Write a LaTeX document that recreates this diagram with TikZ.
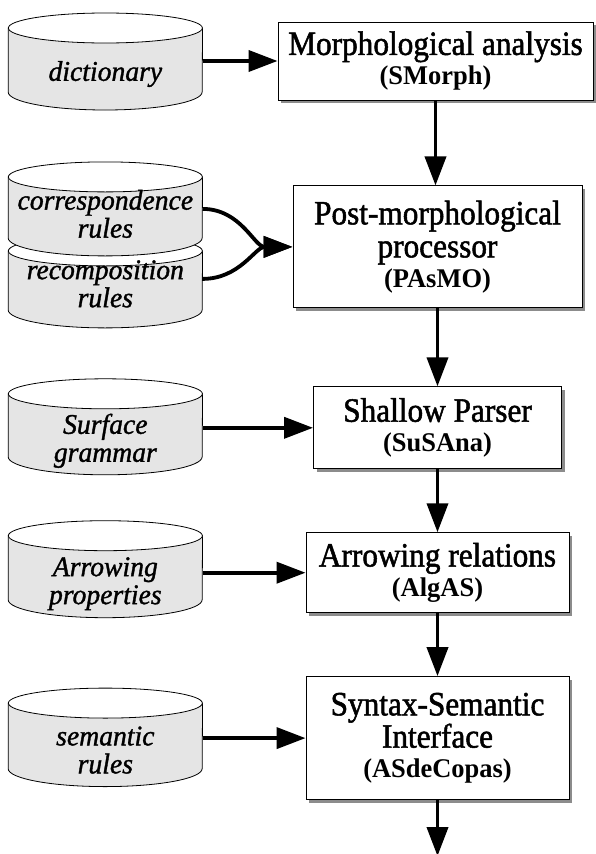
\documentclass[tikz,border=0pt]{standalone}
\usepackage{fontspec}
\setmainfont{Liberation Serif}
\newfontfamily\boxfont[FakeStretch=0.92, FakeBold=1.5]{Liberation Serif}
\newfontfamily\tagfont[FakeStretch=0.98]{Liberation Serif}
\newfontfamily\storefont[FakeStretch=0.97, FakeBold=1.2]{Liberation Serif}
\usetikzlibrary{positioning}
\usetikzlibrary{arrows.meta}
\usetikzlibrary{shadows,backgrounds}
\definecolor{drumgray}{gray}{0.9}
\tikzset{
procbox/.style={rectangle, draw=black, fill=white, line width=0.9pt, inner sep=0pt, align=center,
  font=\boxfont\fontsize{34}{30}\selectfont,
  drop shadow={shadow xshift=3pt, shadow yshift=-3pt, fill=black!45, opacity=1}},
store/.style={rectangle, inner sep=0pt, minimum width=194pt, align=center,
  font=\storefont\itshape\fontsize{28.5}{28}\selectfont},
flow/.style={line width=3.8pt, -{Triangle[length=29pt,width=21pt]}}
}
\def\prog#1{{\tagfont\bfseries\fontsize{27}{30}\selectfont(#1)}}
\def\drum#1#2#3{%
\begin{scope}[on background layer]
\filldraw[fill=drumgray, line width=0.8pt] ([yshift=#2]#1.west) -- ([yshift=-#3]#1.west)
  arc[start angle=180, end angle=360, x radius=97pt, y radius=18pt] -- ([yshift=#2]#1.east) -- cycle;
\filldraw[fill=white, line width=0.8pt] ([yshift=#2]#1.center) ellipse[x radius=97pt, y radius=15pt];
\end{scope}}

\begin{document}
\begin{tikzpicture}[x=1pt, y=1pt]
\useasboundingbox (0,0) rectangle (596,-854);
%Boxes
\node [procbox, minimum width=315pt, minimum height=78pt] (SMorph) at (435.5,-61) {Morphological analysis\\ \prog{SMorph}};
\node [procbox, minimum width=289pt, minimum height=122pt] (PAsMO) [below=85pt of SMorph, xshift=2pt] {Post-morphological\\[3pt] processor\\ \prog{PAsMO}};
\node [procbox, minimum width=248pt, minimum height=82pt] (SuSAna) [below=78pt of PAsMO] {Shallow Parser\\ \prog{SuSAna}};
\node [procbox, minimum width=263pt, minimum height=80pt] (AlgAS) [below=63pt of SuSAna] {Arrowing relations\\ \prog{AlgAS}};
\node [procbox, minimum width=263pt, minimum height=123pt] (ASdeCopas) [below=63pt of AlgAS] {Syntax-Semantic\\ Interface\\ \prog{ASdeCopas}};
\coordinate [below=56pt of ASdeCopas] (out);

%Stores
\node [store, left=75pt of SMorph, yshift=-13pt] (dict) {dictionary};
\node [store, left=90pt of PAsMO, yshift=33pt] (corr) {correspondence\\ rules};
\node [store, left=90pt of PAsMO, yshift=-37pt] (recomp) {recomposition\\ rules};
\node [store, left=110.5pt of SuSAna, yshift=-13pt] (surf) {Surface\\ grammar};
\node [store, left=103pt of AlgAS, yshift=-11pt] (arrprop) {Arrowing\\ properties};
\node [store, left=103pt of ASdeCopas, yshift=-12pt] (sem) {semantic\\ rules};
\drum{dict}{46pt}{18pt}
\drum{recomp}{33pt}{26pt}
\drum{corr}{37pt}{24pt}
\drum{surf}{47pt}{16pt}
\drum{arrprop}{48pt}{16pt}
\drum{sem}{47pt}{18.5pt}

%Lines
\draw [flow] (dict.east |- SMorph.west) -- (SMorph.west);
\draw [flow] (SMorph.south) -- (SMorph.south |- PAsMO.north);
\draw [flow] ([yshift=5pt]corr.east) to[out=0, in=180] (PAsMO.west);
\draw [flow] ([yshift=5pt]recomp.east) to[out=0, in=180] (PAsMO.west);
\draw [flow] (PAsMO.south) -- (SuSAna.north);
\draw [flow] (surf.east |- SuSAna.west) -- (SuSAna.west);
\draw [flow] (SuSAna.south) -- (AlgAS.north);
\draw [flow] (arrprop.east |- AlgAS.west) -- (AlgAS.west);
\draw [flow] (AlgAS.south) -- (ASdeCopas.north);
\draw [flow] (sem.east |- ASdeCopas.west) -- (ASdeCopas.west);
\draw [flow] (ASdeCopas.south) -- (out);

\end{tikzpicture}
\end{document}
